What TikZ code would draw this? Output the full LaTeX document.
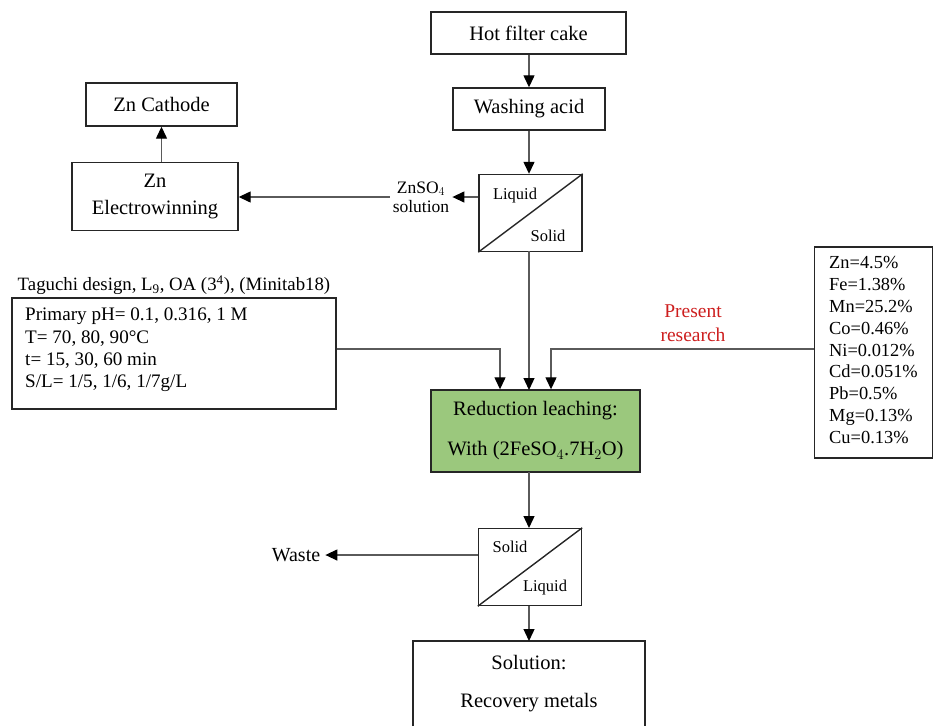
\documentclass[tikz,border=0pt]{standalone}
\usepackage{fontspec}
\setmainfont{Liberation Serif}
\usetikzlibrary{arrows.meta}
\definecolor{leachgreen}{RGB}{155,200,125}
\definecolor{presentred}{RGB}{205,30,30}
\definecolor{linegray}{RGB}{90,90,90}
\begin{document}
\begin{tikzpicture}[x=1pt,y=-1pt,
  box/.style={draw=black!85, line width=1.4pt, inner sep=0pt, font=\fontsize{20.5}{22}\selectfont, align=center},
  sepbox/.style={draw=black!85, line width=1.4pt, inner sep=0pt, minimum width=103pt, minimum height=77pt},
  small/.style={font=\fontsize{16.5}{19}\selectfont, inner sep=0pt},
  flow/.style={draw=linegray, line width=1.3pt, -{Triangle[length=12pt,width=11pt,color=black]}},
  plain/.style={draw=linegray, line width=1.3pt}
]
\useasboundingbox (0,0) rectangle (934,726);

% top chain
\node[box, minimum width=195pt, minimum height=42pt] (hot) at (528.5,33) {Hot filter cake};
\node[box, minimum width=152pt, minimum height=42pt] (wash) at (529,109) {Washing acid};
\node[sepbox] (sep1) at (530.5,213) {};
\draw[line width=1.4pt, draw=black!85] (sep1.south west) -- (sep1.north east);
\node[small] (liq1) at (515,196) {Liquid};
\node[small] (sol1) at (548,236) {Solid};

% zinc branch
\node[box, minimum width=166pt, minimum height=68pt, font=\fontsize{20.5}{27}\selectfont] (ew) at (155,196.5) {Zn\\Electrowinning};
\node[box, minimum width=151pt, minimum height=43pt] (cat) at (161.5,104.5) {Zn Cathode};
\node[small, align=center, font=\fontsize{17.5}{19}\selectfont] (zns) at (421,197) {ZnSO$_4$\\solution};

% Taguchi
\node[font=\fontsize{18.8}{20}\selectfont, inner sep=0pt] (tag) at (174,285) {Taguchi design, L\textsubscript{9}, OA (3\textsuperscript{4}), (Minitab18)};
\node[box, minimum width=324pt, minimum height=111pt] (par) at (174,353.5) {};
\node[font=\fontsize{19.1}{22.3}\selectfont, align=left, anchor=north west, inner sep=0pt] (partxt) at (25,308) {Primary pH= 0.1, 0.316, 1 M\\T= 70, 80, 90°C\\t= 15, 30, 60 min\\S/L= 1/5, 1/6, 1/7g/L};

% composition
\node[box, minimum width=118pt, minimum height=211pt] (comp) at (873.5,352.5) {};
\node[font=\fontsize{18.4}{21.9}\selectfont, align=left, anchor=north west, inner sep=0pt] (comptxt) at (829,256) {Zn=4.5\%\\Fe=1.38\%\\Mn=25.2\%\\Co=0.46\%\\Ni=0.012\%\\Cd=0.051\%\\Pb=0.5\%\\Mg=0.13\%\\Cu=0.13\%};

\node[font=\fontsize{19.5}{24}\selectfont, text=presentred, align=center, inner sep=0pt] (pres) at (693,323) {Present\\research};

% reduction leaching
\node[box, fill=leachgreen, minimum width=209pt, minimum height=82pt, font=\fontsize{20.5}{40}\selectfont] (red) at (535.5,431) {Reduction leaching:\\With (2FeSO$_4$.7H$_2$O)};

% second separation
\node[sepbox] (sep2) at (530,567) {};
\draw[line width=1.4pt, draw=black!85] (sep2.south west) -- (sep2.north east);
\node[small] (sol2) at (510,547) {Solid};
\node[small] (liq2) at (545,588) {Liquid};
\node[font=\fontsize{20}{22}\selectfont, inner sep=0pt] (waste) at (296,555) {Waste};

% solution box (cut by bottom edge)
\coordinate (solTL) at (413,641);
\coordinate (solTR) at (645,641);
\draw[line width=1.4pt, draw=black!85] (413,726) -- (solTL) -- (solTR) -- (645,726);
\node[font=\fontsize{20.5}{22}\selectfont, inner sep=0pt] (soltxt1) at (529,663) {Solution:};
\node[font=\fontsize{20.5}{22}\selectfont, inner sep=0pt] (soltxt2) at (529,703) {Recovery metals};
\coordinate (solTop) at (529,641);

% connectors
\draw[flow] (hot.south -| wash.north) -- (wash.north);
\draw[flow] (wash.south) -- (wash.south |- sep1.north);
\draw[flow] (sep1.west |- zns.east) -- ([xshift=3pt]zns.east);
\draw[flow] ([xshift=-3pt]zns.west) -- (ew.east |- zns.west);
\draw[flow] (ew.north -| cat.south) -- (cat.south);
\coordinate (p1) at (500,349);
\coordinate (p3) at (551,349);
\draw[flow] (par.east |- p1) -- (p1) -- (p1 |- red.north);
\draw[flow] (529,251) -- (529,390);
\draw[flow] (comp.west |- p3) -- (p3) -- (p3 |- red.north);
\draw[flow] (529,472) -- (529,528);
\draw[flow] (sep2.west |- waste.east) -- ([xshift=5pt]waste.east);
\draw[flow] (529,606) -- (solTop);
\end{tikzpicture}
\end{document}
